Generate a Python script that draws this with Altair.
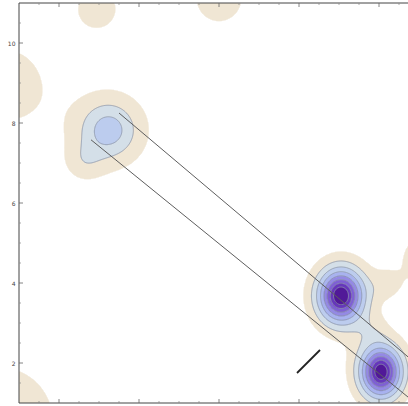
import numpy as np
import pandas as pd
import altair as alt

# --- field definition -------------------------------------------------------
# each source: v = amp * exp(-rho**shape), rho = elliptical distance scaled by (lx, ly)
src_x = [3.24, 9.05, 10.05, 2.60, 9.85, 10.20, 2.95, 6.00, 0.73, 0.52, 11.15]
src_y = [7.82, 3.68, 1.78, 7.00, 2.85, 3.95, 10.85, 11.10, 8.95, 0.57, 4.60]
src_amp = [0.39, 0.95, 0.92, 0.10, 0.06, 0.10, 0.15, 0.15, 0.15, 0.15, 0.15]
src_lx = [0.81, 0.56, 0.52, 0.50, 0.40, 0.40, 0.70, 0.85, 1.20, 2.05, 0.80]
src_ly = [0.81, 0.66, 0.64, 0.50, 0.40, 0.40, 0.70, 0.85, 1.30, 2.05, 0.85]
src_shape = [1.5, 1.6, 1.6, 2, 2, 2, 2, 2, 2, 2, 2]

# contour thresholds and shading per band
levels = [0.1, 0.2, 0.3, 0.4, 0.5, 0.6, 0.7, 0.8]
band_colors = ["#f1e7d4", "#d4dfe8", "#bccdee", "#a9b2ef",
               "#9589e4", "#7f60d4", "#6837bb", "#521b98"]

# band edges and marker segment
edge_x = [3.50, 2.80]
edge_y = [8.25, 7.58]
edge_x2 = [11.50, 11.50]
edge_y2 = [1.50, 0.52]
mark_x, mark_y, mark_x2, mark_y2 = [7.95], [1.75], [8.525], [2.325]

# frame ticks
major_ticks = [2, 4, 6, 8, 10]
minor_ticks = [v / 2 for v in range(3, 22) if v % 4 != 0]

# visible window of the plane
x_domain = [1, 10.725]
y_domain = [1, 11]
px_per_unit = 40

# --- grid evaluation --------------------------------------------------------
step = 0.025
xs = np.arange(1 + step / 2, 10.8, step)
ys = np.arange(1 + step / 2, 11, step)
X, Y = np.meshgrid(xs, ys)
Z = np.zeros_like(X)
for cx, cy, a, lx, ly, p in zip(src_x, src_y, src_amp, src_lx, src_ly, src_shape):
    rho = np.sqrt(((X - cx) / lx) ** 2 + ((Y - cy) / ly) ** 2)
    Z += a * np.exp(-rho ** p)

lvl = np.searchsorted(levels, Z, side="right")
mask = lvl >= 1
cells = pd.DataFrame({
    "x0": np.round((X - step / 2)[mask], 4), "x1": np.round((X + step / 2)[mask], 4),
    "y0": np.round((Y - step / 2)[mask], 4), "y1": np.round((Y + step / 2)[mask], 4),
    "lvl": lvl[mask],
})

# marching squares for the contour lines (outermost band edge drawn in its own fill)
segs = []
for li, t in enumerate(levels):
    ab = Z >= t
    c = ab[:-1, :-1].astype(int) + ab[:-1, 1:] + ab[1:, 1:] + ab[1:, :-1]
    jj, ii = np.nonzero((c > 0) & (c < 4))
    for j, i in zip(jj, ii):
        corners = [(i, j), (i + 1, j), (i + 1, j + 1), (i, j + 1)]
        pts = []
        for k in range(4):
            (ia, ja), (ib, jb) = corners[k], corners[(k + 1) % 4]
            va, vb = Z[ja, ia], Z[jb, ib]
            if (va >= t) != (vb >= t):
                f = (t - va) / (vb - va)
                pts.append((xs[ia] + f * (xs[ib] - xs[ia]),
                            ys[ja] + f * (ys[jb] - ys[ja])))
        for p in range(0, len(pts) - 1, 2):
            segs.append((round(pts[p][0], 4), round(pts[p][1], 4),
                         round(pts[p + 1][0], 4), round(pts[p + 1][1], 4),
                         "outer" if li == 0 else "inner"))
contours = pd.DataFrame(segs, columns=["x", "y", "x2", "y2", "kind"])

# --- chart --------------------------------------------------------------------
W = round((x_domain[1] - x_domain[0]) * px_per_unit)
H = round((y_domain[1] - y_domain[0]) * px_per_unit)
sx_ = alt.Scale(domain=x_domain, nice=False, zero=False)
sy_ = alt.Scale(domain=y_domain, nice=False, zero=False)
cscale = alt.Scale(domain=list(range(1, 9)), range=band_colors)
x_axis = alt.Axis(values=major_ticks, domain=False, ticks=False, grid=False,
                  labelFontSize=6, labelPadding=6, labelColor="#444",
                  labelFont="DejaVu Sans")
y_axis = alt.Axis(values=major_ticks, domain=False, ticks=False, grid=False,
                  labelFontSize=6, labelPadding=4, labelColor="#444",
                  labelFont="DejaVu Sans")


def xenc(field):
    return alt.X(field, type="quantitative", scale=sx_, axis=x_axis, title=None)


def yenc(field):
    return alt.Y(field, type="quantitative", scale=sy_, axis=y_axis, title=None)


fill = alt.Chart(cells).mark_rect(strokeWidth=0.4, clip=True).encode(
    x=xenc("x0"), x2="x1", y=yenc("y0"), y2="y1",
    color=alt.Color("lvl:O", scale=cscale, legend=None),
    stroke=alt.Stroke("lvl:O", scale=cscale, legend=None),
)

outer_line = alt.Chart(contours).transform_filter(alt.datum.kind == "outer").mark_rule(
    color=band_colors[0], strokeWidth=1, clip=True).encode(
    x=xenc("x"), y=yenc("y"), x2="x2", y2="y2",
)

lines = alt.Chart(contours).transform_filter(alt.datum.kind == "inner").mark_rule(
    color="#8a93a6", strokeWidth=0.8, clip=True).encode(
    x=xenc("x"), y=yenc("y"), x2="x2", y2="y2",
)

edges = alt.Chart(pd.DataFrame({"x": edge_x, "y": edge_y, "x2": edge_x2, "y2": edge_y2})
                  ).mark_rule(color="#5e5e5e", strokeWidth=1, clip=True).encode(
    x=xenc("x"), y=yenc("y"), x2="x2", y2="y2",
)

marker = alt.Chart(pd.DataFrame({"x": mark_x, "y": mark_y, "x2": mark_x2, "y2": mark_y2})
                   ).mark_rule(color="#222222", strokeWidth=1.8).encode(
    x=xenc("x"), y=yenc("y"), x2="x2", y2="y2",
)

# frame on the left, top and bottom sides
frame_left = alt.Chart(pd.DataFrame({"v": [y_domain[0]], "v2": [y_domain[1]]})).mark_rule(
    color="#444", strokeWidth=1).encode(y=yenc("v"), y2="v2", x=alt.value(0))
frame_tb = alt.Chart(pd.DataFrame({"v": y_domain, "a": [x_domain[0]] * 2,
                                   "b": [x_domain[1]] * 2})).mark_rule(
    color="#444", strokeWidth=1).encode(y=yenc("v"), x=xenc("a"), x2="b")

major_df = pd.DataFrame({"v": major_ticks})
minor_df = pd.DataFrame({"v": minor_ticks})
left_major = alt.Chart(major_df).mark_rule(color="#666", strokeWidth=0.8).encode(
    y=yenc("v"), x=alt.value(0), x2=alt.value(4))
left_minor = alt.Chart(minor_df).mark_rule(color="#888", strokeWidth=0.7).encode(
    y=yenc("v"), x=alt.value(0), x2=alt.value(2))
top_major = alt.Chart(major_df).mark_rule(color="#666", strokeWidth=0.8).encode(
    x=xenc("v"), y=alt.value(0), y2=alt.value(4))
top_minor = alt.Chart(minor_df).mark_rule(color="#888", strokeWidth=0.7).encode(
    x=xenc("v"), y=alt.value(0), y2=alt.value(2))
bot_major = alt.Chart(major_df).mark_rule(color="#666", strokeWidth=0.8).encode(
    x=xenc("v"), y=alt.value(H), y2=alt.value(H - 4))
bot_minor = alt.Chart(minor_df).mark_rule(color="#888", strokeWidth=0.7).encode(
    x=xenc("v"), y=alt.value(H), y2=alt.value(H - 2))

chart = alt.layer(
    fill, outer_line, lines, edges, marker, frame_left, frame_tb,
    left_major, left_minor, top_major, top_minor, bot_major, bot_minor,
).properties(
    width=W, height=H,
    autosize=alt.AutoSizeParams(type="none"),
    padding={"left": 19, "top": 3, "right": 0, "bottom": 3},
    background="white",
).configure_view(
    strokeWidth=0,
)

chart.save("out.html", embed_options={"renderer": "svg", "actions": False})
